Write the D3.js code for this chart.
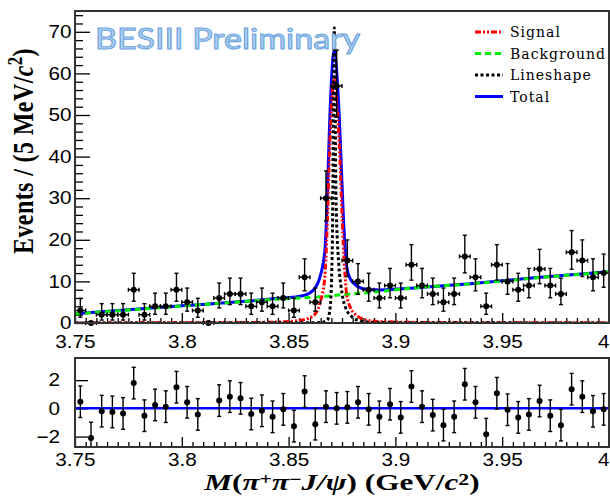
<!DOCTYPE html>
<html>
<head>
<meta charset="utf-8">
<script src="https://cdn.jsdelivr.net/npm/d3@7"></script>
<style>
    html, body { margin: 0; padding: 0; background: #fff; }
    svg { display: block; }
    .tick text { font-family: "Liberation Sans", Arial, sans-serif; font-size: 18px; fill: #000; }
    .tick line { stroke: #000; stroke-width: 1.3; }
</style>
</head>
<body>
<div id="app"></div>
<script>
// ---- data ----
// bin centres (5 MeV bins, 3.75 - 4.00 GeV)
const binCenters = [
    3.7525, 3.7575, 3.7625, 3.7675, 3.7725, 3.7775, 3.7825, 3.7875, 3.7925, 3.7975,
    3.8025, 3.8075, 3.8125, 3.8175, 3.8225, 3.8275, 3.8325, 3.8375, 3.8425, 3.8475,
    3.8525, 3.8575, 3.8625, 3.8675, 3.8725, 3.8775, 3.8825, 3.8875, 3.8925, 3.8975,
    3.9025, 3.9075, 3.9125, 3.9175, 3.9225, 3.9275, 3.9325, 3.9375, 3.9425, 3.9475,
    3.9525, 3.9575, 3.9625, 3.9675, 3.9725, 3.9775, 3.9825, 3.9875, 3.9925, 3.9975
];
const binHalfWidth = 0.0025;

const counts = [
    3, 0, 2, 2, 2, 8, 2, 4, 4, 8,
    5, 3, 0, 6, 7, 7, 4, 5, 4, 6,
    3, 11, 5, 30, 57, 15, 10, 8, 6, 9,
    6, 14, 9, 7, 5, 7, 16, 11, 4, 14,
    10, 8, 9, 13, 9, 7, 17, 15, 11, 12
];

// pulls in the lower panel (null = not drawn)
const pulls = [
    0.47, -2.1, -0.2, -0.25, -0.36, 1.79, -0.52, 0.24, 0.12, 1.5,
    0.43, -0.43, null, 0.55, 0.83, 0.71, -0.4, -0.17, -0.6, -0.07,
    -1.26, 1.19, -1.12, 0.12, 0.0, 0.07, 0.43, -0.07, -0.6, 0.29,
    -0.64, 1.55, 0.12, -0.48, -1.19, -0.6, 1.71, 0.43, -1.83, 1.07,
    -0.1, -0.64, -0.43, 0.52, -0.52, -1.19, 1.36, 0.83, -0.21, -0.07
];
const pullErr = 1.12;

// fit curves, knots
const bkgMass = [3.75, 3.775, 3.80, 3.825, 3.85, 3.865, 3.875, 3.8875, 3.91, 3.935, 3.965, 4.00];
const bkgVal  = [2.2, 3.1, 4.1, 5.0, 5.9, 6.3, 6.8, 7.3, 8.5, 9.4, 10.8, 12.3];

const signalMass = [3.75, 3.80, 3.83, 3.845, 3.852, 3.857, 3.8615, 3.8647, 3.867, 3.8678, 3.8693, 3.8713,
                    3.8737, 3.8756, 3.8772, 3.8787, 3.8819, 3.8866, 3.893, 3.91, 3.95, 4.00];
const signalVal  = [0.02, 0.05, 0.1, 0.25, 0.45, 0.8, 1.7, 4.8, 11.3, 19.5, 43, 58.7,
                    43, 19, 6.8, 4.0, 1.8, 0.7, 0.35, 0.15, 0.07, 0.04];

const lineshapeMass = [3.75, 3.86, 3.865, 3.8681, 3.8695, 3.8705, 3.8714, 3.8722, 3.8735,
                       3.8745, 3.8756, 3.8772, 3.8796, 3.8834, 3.8896, 3.92, 4.00];
const lineshapeVal  = [0.02, 0.05, 0.1, 0.7, 4, 20, 71, 30, 14,
                       9, 5.5, 3.1, 1.5, 0.55, 0.15, 0.05, 0.02];

const totalMass = [3.75, 3.80, 3.83, 3.845, 3.852, 3.857, 3.8615, 3.8647, 3.867, 3.8678, 3.8693, 3.8713,
                   3.8737, 3.8756, 3.8772, 3.8787, 3.8819, 3.8866, 3.893, 3.91, 3.935, 3.965, 4.00];
const totalVal  = [2.2, 4.15, 5.2, 5.95, 6.2, 6.6, 7.9, 11.1, 17.6, 25.7, 49.5, 65.4,
                   50, 26, 13.5, 10.8, 8.9, 8.1, 7.95, 8.5, 9.45, 10.85, 12.35];

// axis ticks
const xMajor = [3.75, 3.8, 3.85, 3.9, 3.95, 4.0];
const xTickLabels = ["3.75", "3.8", "3.85", "3.9", "3.95", "4"];
const yMainMajor = [0, 10, 20, 30, 40, 50, 60, 70];
const yPullMajor = [-2, 0, 2];

const legendItems = [
    { label: "Signal", color: "#ff0000", dash: "6,2,2,2,2,2" },
    { label: "Background", color: "#00ee00", dash: "6,4" },
    { label: "Lineshape", color: "#000000", dash: "3,2.5" },
    { label: "Total", color: "#0000ff", dash: null }
];

// ---- layout ----
const W = 610, H = 496;
const left = 75, right = 609;
const mainTop = 11, mainBottom = 323;
const pullTop = 358, pullBottom = 447;
const stretch = 1.15;   // the reference picture is a bit wider than tall

const svg = d3.select("#app").append("svg")
    .attr("width", W).attr("height", H)
    .attr("viewBox", [0, 0, W, H]);

const x = d3.scaleLinear().domain([3.75, 4.0]).range([left, right]);
const y = d3.scaleLinear().domain([0, 75]).range([mainBottom, mainTop]);
const yp = d3.scaleLinear().domain([-2.74, 3.57]).range([pullBottom, pullTop]);

// minor tick positions every 5 MeV / 2 events
const xMinor = d3.range(3.75, 4.0001, 0.005).filter(v => !xMajor.some(m => Math.abs(m - v) < 1e-6));
const yMinor = d3.range(0, 75, 2).filter(v => v % 10 !== 0);

svg.append("clipPath").attr("id", "clipMain")
    .append("rect").attr("x", left).attr("y", mainTop)
    .attr("width", right - left).attr("height", mainBottom - mainTop);
svg.append("clipPath").attr("id", "clipPull")
    .append("rect").attr("x", left).attr("y", pullTop)
    .attr("width", right - left).attr("height", pullBottom - pullTop);

// ---- axes (ticks pointing inwards) ----
function xAxes(bottom, pad) {
    svg.append("g").attr("transform", `translate(0,${bottom})`)
        .call(d3.axisBottom(x).tickValues(xMajor).tickSize(-10).tickPadding(pad)
            .tickFormat((d, i) => xTickLabels[i]))
        .call(g => g.select(".domain").remove())
        .call(g => g.selectAll(".tick text")
            .attr("transform", `scale(${stretch},1)`)
            .attr("dx", (d, i) => i === xMajor.length - 1 ? -5 : 0));
    svg.append("g").attr("transform", `translate(0,${bottom})`)
        .call(d3.axisBottom(x).tickValues(xMinor).tickSize(-5).tickFormat(""))
        .call(g => g.select(".domain").remove());
}
xAxes(mainBottom, 12);
xAxes(pullBottom, 6);

svg.append("g").attr("transform", `translate(${left},0)`)
    .call(d3.axisLeft(y).tickValues(yMainMajor).tickSize(-15).tickPadding(3))
    .call(g => g.select(".domain").remove())
    .call(g => g.selectAll(".tick text").attr("transform", `scale(${stretch},1)`));
svg.append("g").attr("transform", `translate(${left},0)`)
    .call(d3.axisLeft(y).tickValues(yMinor).tickSize(-8).tickFormat(""))
    .call(g => g.select(".domain").remove());

svg.append("g").attr("transform", `translate(${left},0)`)
    .call(d3.axisLeft(yp).tickValues(yPullMajor).tickSize(-13).tickPadding(13)
        .tickFormat(d3.format("d")))
    .call(g => g.select(".domain").remove())
    .call(g => g.selectAll(".tick text").attr("transform", `scale(${stretch},1)`));

// ---- fit curves ----
function curve(mass, vals, color, dash, width) {
    const pts = mass.map((m, i) => [m, vals[i]]);
    svg.append("path")
        .datum(pts)
        .attr("clip-path", "url(#clipMain)")
        .attr("fill", "none")
        .attr("stroke", color)
        .attr("stroke-width", width)
        .attr("stroke-dasharray", dash)
        .attr("d", d3.line().x(d => x(d[0])).y(d => y(d[1])).curve(d3.curveMonotoneX));
}
curve(totalMass, totalVal, "#0000ff", null, 3);
curve(bkgMass, bkgVal, "#00ee00", "6,4", 3);
curve(signalMass, signalVal, "#ff0000", "6,2,2,2,2,2", 3);
curve(lineshapeMass, lineshapeVal, "#000000", "3,2.5", 3);

// ---- data points with Poisson errors ----
function poissonUp(n) { return n === 0 ? 0 : Math.sqrt(n + 0.75) + 1; }
function poissonLo(n) {
    if (n === 0) return 0;
    return n - n * Math.pow(1 - 1 / (9 * n) - 1 / (3 * Math.sqrt(n)), 3);
}

const dataG = svg.append("g").attr("stroke", "#000").attr("stroke-width", 1.4);
binCenters.forEach((m, i) => {
    const n = counts[i];
    const cx = x(m), cy = y(n);
    const x0 = x(m - binHalfWidth), x1 = x(m + binHalfWidth);
    dataG.append("line").attr("x1", x0).attr("x2", x1).attr("y1", cy).attr("y2", cy);
    dataG.append("line").attr("x1", x0).attr("x2", x0).attr("y1", cy - 2).attr("y2", cy + 2);
    dataG.append("line").attr("x1", x1).attr("x2", x1).attr("y1", cy - 2).attr("y2", cy + 2);
    if (n > 0) {
        const yt = y(n + poissonUp(n)), yb = y(n - poissonLo(n));
        dataG.append("line").attr("x1", cx).attr("x2", cx).attr("y1", yt).attr("y2", yb);
        dataG.append("line").attr("x1", cx - 2).attr("x2", cx + 2).attr("y1", yt).attr("y2", yt);
        dataG.append("line").attr("x1", cx - 2).attr("x2", cx + 2).attr("y1", yb).attr("y2", yb);
    }
    dataG.append("circle").attr("cx", cx).attr("cy", cy).attr("r", 3).attr("fill", "#000").attr("stroke", "none");
});

// ---- pull panel ----
svg.append("line")
    .attr("x1", left).attr("x2", right)
    .attr("y1", yp(0)).attr("y2", yp(0))
    .attr("stroke", "#0000ff").attr("stroke-width", 2.5);

const pullG = svg.append("g").attr("stroke", "#000").attr("stroke-width", 1.4)
    .attr("clip-path", "url(#clipPull)");
binCenters.forEach((m, i) => {
    const p = pulls[i];
    if (p === null) return;
    const cx = x(m);
    const yt = yp(p + pullErr), yb = yp(p - pullErr);
    pullG.append("line").attr("x1", cx).attr("x2", cx).attr("y1", yt).attr("y2", yb);
    pullG.append("line").attr("x1", cx - 2).attr("x2", cx + 2).attr("y1", yt).attr("y2", yt);
    pullG.append("line").attr("x1", cx - 2).attr("x2", cx + 2).attr("y1", yb).attr("y2", yb);
    pullG.append("circle").attr("cx", cx).attr("cy", yp(p)).attr("r", 3).attr("fill", "#000").attr("stroke", "none");
});

// ---- frames ----
[[mainTop, mainBottom], [pullTop, pullBottom]].forEach(([t, b]) => {
    svg.append("rect")
        .attr("x", left).attr("y", t)
        .attr("width", right - left).attr("height", b - t)
        .attr("fill", "none").attr("stroke", "#333").attr("stroke-width", 2);
});

// ---- legend ----
const legend = svg.append("g").attr("font-family", "'DejaVu Serif', serif").attr("font-size", 14);
legendItems.forEach((d, i) => {
    const ly = 32 + i * 21.5;
    legend.append("line")
        .attr("x1", 475).attr("x2", 503).attr("y1", ly).attr("y2", ly)
        .attr("stroke", d.color).attr("stroke-width", 3)
        .attr("stroke-dasharray", d.dash);
    legend.append("text")
        .attr("x", 510).attr("y", ly + 5)
        .attr("letter-spacing", 1)
        .text(d.label);
});

// ---- watermark ----
svg.append("text")
    .attr("x", 95).attr("y", 49)
    .attr("font-family", "Lato, 'Open Sans', sans-serif")
    .attr("font-size", 29)
    .attr("textLength", 265)
    .attr("lengthAdjust", "spacingAndGlyphs")
    .attr("fill", "#b3d2f2")
    .attr("stroke", "#6ea6de")
    .attr("stroke-width", 1.1)
    .text("BESIII Preliminary");

// ---- axis titles (rich text) ----
function richText(sel, parts, raise) {
    let raised = false;
    parts.forEach(p => {
        const ts = sel.append("tspan").text(p.t);
        if (p.italic) ts.attr("font-style", "italic");
        if (p.sup && !raised) { ts.attr("dy", -raise).attr("font-size", "0.7em"); raised = true; }
        else if (!p.sup && raised) { ts.attr("dy", raise); raised = false; }
        else if (p.sup) ts.attr("font-size", "0.7em");
    });
}

const xTitle = svg.append("text")
    .attr("transform", "translate(342,490) scale(1.3,1)")
    .attr("text-anchor", "middle")
    .attr("font-family", "'Liberation Serif', serif")
    .attr("font-weight", "bold")
    .attr("font-size", 24);
richText(xTitle, [
    { t: "M", italic: true }, { t: "(" }, { t: "π", italic: true }, { t: "+", sup: true },
    { t: "π", italic: true }, { t: "−", sup: true }, { t: "J/ψ", italic: true }, { t: ") (GeV/" },
    { t: "c", italic: true }, { t: "2", sup: true }, { t: ")" }
], 5);

const yTitle = svg.append("text")
    .attr("transform", "translate(33,151) scale(1.2,1) rotate(-90)")
    .attr("text-anchor", "middle")
    .attr("font-family", "'Liberation Serif', serif")
    .attr("font-weight", "bold")
    .attr("font-size", 24)
    .attr("letter-spacing", 0.4);
richText(yTitle, [
    { t: "Events / (5 MeV/" }, { t: "c", italic: true }, { t: "2", sup: true }, { t: ")" }
], 9);
</script>
</body>
</html>
